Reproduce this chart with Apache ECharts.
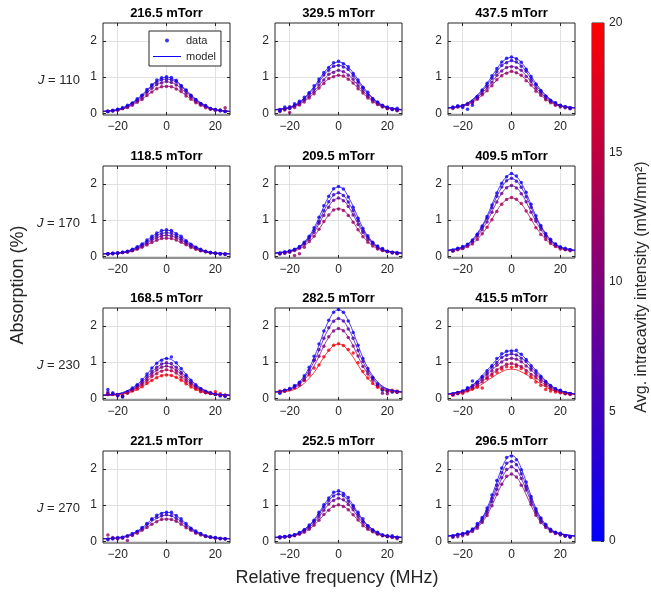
<!DOCTYPE html>
<html><head><meta charset="utf-8">
<script src="https://cdn.jsdelivr.net/npm/echarts@6/dist/echarts.min.js"></script>
<style>html,body{margin:0;padding:0;background:#fff}#c{width:651px;height:597px}</style>
</head><body><div id="c"></div>
<script>
// ---------------- data ----------------
const xModel = [-26,-20,-16,-12,-9,-6,-4,-2,0,2,4,6,9,12,16,20,26];
const xData = [-24,-22,-20,-18,-16,-14,-12,-10,-8,-6,-4,-2,0,2,4,6,8,10,12,14,16,18,20,22,24];
const xTicks = [-20,0,20];
const yTicks = [0,1,2];
const cbTicks = [0,5,10,15,20];
const titles = ['216.5 mTorr','329.5 mTorr','437.5 mTorr','118.5 mTorr','209.5 mTorr','409.5 mTorr',
                '168.5 mTorr','282.5 mTorr','415.5 mTorr','221.5 mTorr','252.5 mTorr','296.5 mTorr'];
const jValues = ['110','170','230','270'];

// Panel A 216.5
const A_int = [1,4,8,12];
const A_m1 = [0.05,0.10,0.21,0.39,0.58,0.78,0.90,0.97,1.00,0.97,0.90,0.78,0.58,0.39,0.21,0.10,0.05];
const A_m2 = [0.05,0.10,0.20,0.37,0.55,0.75,0.86,0.92,0.95,0.92,0.86,0.75,0.55,0.37,0.20,0.10,0.05];
const A_m3 = [0.05,0.09,0.18,0.34,0.51,0.68,0.79,0.85,0.87,0.85,0.79,0.68,0.51,0.34,0.18,0.09,0.05];
const A_m4 = [0.05,0.08,0.16,0.30,0.44,0.59,0.68,0.73,0.75,0.73,0.68,0.59,0.44,0.30,0.16,0.08,0.05];
const A_d1 = [0.05,0.07,0.11,0.14,0.22,0.27,0.40,0.50,0.66,0.79,0.92,0.98,1.01,0.99,0.91,0.77,0.64,0.50,0.37,0.27,0.20,0.13,0.09,0.07,0.05];
const A_d2 = [0.06,0.08,0.10,0.15,0.19,0.28,0.36,0.49,0.61,0.76,0.85,0.93,0.94,0.93,0.87,0.74,0.63,0.48,0.38,0.26,0.21,0.13,0.10,0.08,0.05];
const A_d3 = [0.05,0.06,0.09,0.14,0.17,0.26,0.35,0.43,0.57,0.69,0.79,0.84,0.88,0.85,0.78,0.68,0.55,0.45,0.33,0.25,0.19,0.12,0.10,0.07,0.06];
const A_d4 = [0.05,0.07,0.08,0.12,0.16,0.22,0.30,0.38,0.49,0.59,0.68,0.73,0.74,0.73,0.67,0.60,0.48,0.39,0.29,0.22,0.15,0.11,0.08,0.09,0.15];

// Panel B 329.5
const B_int = [1,4,8,12];
const B_m1 = [0.10,0.17,0.31,0.57,0.83,1.12,1.28,1.38,1.42,1.38,1.28,1.12,0.83,0.57,0.31,0.17,0.10];
const B_m2 = [0.10,0.16,0.29,0.54,0.78,1.05,1.20,1.29,1.33,1.29,1.20,1.05,0.78,0.54,0.29,0.16,0.10];
const B_m3 = [0.09,0.15,0.27,0.48,0.69,0.93,1.07,1.15,1.18,1.15,1.07,0.93,0.69,0.48,0.27,0.15,0.09];
const B_m4 = [0.09,0.14,0.24,0.43,0.62,0.83,0.95,1.02,1.05,1.02,0.95,0.83,0.62,0.43,0.24,0.14,0.09];
const B_d1 = [0.06,0.17,0.14,0.26,0.33,0.44,0.57,0.76,0.95,1.13,1.27,1.40,1.44,1.37,1.29,1.10,0.92,0.72,0.58,0.41,0.30,0.22,0.17,0.10,0.14];
const B_d2 = [0.08,0.11,0.18,0.20,0.30,0.38,0.55,0.68,0.88,1.06,1.19,1.30,1.32,1.28,1.21,1.04,0.86,0.70,0.52,0.39,0.30,0.20,0.15,0.12,0.09];
const B_d3 = [0.10,0.12,0.13,0.22,0.25,0.37,0.47,0.60,0.78,0.92,1.08,1.13,1.19,1.15,1.05,0.94,0.76,0.62,0.47,0.36,0.26,0.19,0.14,0.12,0.08];
const B_d4 = [0.05,0.09,0.02,0.16,0.23,0.31,0.42,0.54,0.70,0.82,0.96,1.01,1.05,1.03,0.94,0.84,0.68,0.56,0.42,0.31,0.24,0.17,0.12,0.10,0.07];

// Panel C 437.5
const C_int = [1,4,8,12];
const C_m1 = [0.15,0.22,0.38,0.65,0.93,1.23,1.41,1.51,1.55,1.51,1.41,1.23,0.93,0.65,0.38,0.22,0.15];
const C_m2 = [0.15,0.21,0.36,0.61,0.87,1.15,1.32,1.41,1.45,1.41,1.32,1.15,0.87,0.61,0.36,0.21,0.15];
const C_m3 = [0.14,0.20,0.33,0.56,0.78,1.04,1.18,1.26,1.30,1.26,1.18,1.04,0.78,0.56,0.33,0.20,0.14];
const C_m4 = [0.14,0.19,0.30,0.50,0.70,0.92,1.05,1.12,1.15,1.12,1.05,0.92,0.70,0.50,0.30,0.19,0.14];
const C_d1 = [0.17,0.20,0.16,0.11,0.22,0.46,0.64,0.83,1.04,1.24,1.42,1.52,1.56,1.51,1.41,1.22,1.02,0.81,0.63,0.47,0.36,0.29,0.22,0.17,0.14];
const C_d2 = [0.16,0.20,0.21,0.24,0.31,0.45,0.62,0.77,0.97,1.15,1.32,1.40,1.46,1.42,1.30,1.16,0.95,0.78,0.60,0.47,0.34,0.28,0.21,0.17,0.16];
const C_d3 = [0.15,0.18,0.19,0.27,0.33,0.41,0.55,0.71,0.86,1.05,1.17,1.27,1.29,1.26,1.19,1.02,0.88,0.69,0.56,0.41,0.33,0.24,0.20,0.18,0.13];
const C_d4 = [0.13,0.17,0.20,0.25,0.28,0.39,0.51,0.62,0.76,0.93,1.04,1.11,1.16,1.12,1.05,0.90,0.78,0.61,0.50,0.37,0.29,0.22,0.17,0.15,0.12];

// Panel D 118.5
const D_int = [1,4,8,12];
const D_m1 = [0.07,0.09,0.14,0.26,0.39,0.55,0.63,0.70,0.72,0.70,0.63,0.55,0.39,0.26,0.14,0.09,0.07];
const D_m2 = [0.07,0.09,0.13,0.24,0.35,0.49,0.57,0.63,0.65,0.63,0.57,0.49,0.35,0.24,0.13,0.09,0.07];
const D_m3 = [0.06,0.08,0.12,0.21,0.32,0.44,0.51,0.56,0.58,0.56,0.51,0.44,0.32,0.21,0.12,0.08,0.06];
const D_m4 = [0.06,0.08,0.11,0.19,0.28,0.38,0.44,0.49,0.50,0.49,0.44,0.38,0.28,0.19,0.11,0.08,0.06];
const D_d1 = [0.06,0.08,0.09,0.10,0.13,0.19,0.26,0.34,0.45,0.55,0.64,0.71,0.73,0.71,0.62,0.55,0.43,0.33,0.25,0.19,0.14,0.10,0.08,0.06,0.05];
const D_d2 = [0.07,0.07,0.09,0.11,0.14,0.17,0.23,0.31,0.40,0.50,0.58,0.63,0.66,0.64,0.57,0.49,0.40,0.30,0.24,0.18,0.13,0.10,0.08,0.07,0.06];
const D_d3 = [0.06,0.07,0.08,0.10,0.12,0.16,0.21,0.28,0.35,0.45,0.51,0.56,0.58,0.57,0.52,0.44,0.36,0.28,0.22,0.16,0.12,0.09,0.08,0.07,0.06];
const D_d4 = [0.07,0.08,0.09,0.10,0.11,0.15,0.19,0.25,0.31,0.38,0.44,0.49,0.50,0.49,0.45,0.39,0.32,0.24,0.19,0.15,0.12,0.10,0.08,0.07,0.07];

// Panel E 209.5
const E_int = [1,4,8,12];
const E_m1 = [0.09,0.15,0.27,0.56,0.92,1.38,1.65,1.86,1.92,1.86,1.65,1.38,0.92,0.56,0.27,0.15,0.09];
const E_m2 = [0.09,0.14,0.25,0.52,0.84,1.26,1.50,1.69,1.75,1.69,1.50,1.26,0.84,0.52,0.25,0.14,0.09];
const E_m3 = [0.08,0.14,0.24,0.48,0.77,1.15,1.38,1.55,1.60,1.55,1.38,1.15,0.77,0.48,0.24,0.14,0.08];
const E_m4 = [0.08,0.12,0.20,0.40,0.64,0.95,1.14,1.28,1.32,1.28,1.14,0.95,0.64,0.40,0.20,0.12,0.08];
const E_d1 = [0.08,0.10,0.13,0.19,0.27,0.39,0.55,0.79,1.08,1.40,1.66,1.87,1.93,1.86,1.64,1.36,1.05,0.77,0.57,0.39,0.28,0.21,0.14,0.11,0.08];
const E_d2 = [0.09,0.12,0.15,0.18,0.25,0.36,0.52,0.72,0.96,1.26,1.51,1.70,1.76,1.68,1.50,1.27,0.98,0.70,0.52,0.36,0.26,0.20,0.13,0.10,0.10];
const E_d3 = [0.07,0.09,0.11,0.16,0.22,0.33,0.48,0.66,0.91,1.13,1.36,1.55,1.61,1.54,1.38,1.14,0.88,0.66,0.46,0.35,0.23,0.17,0.12,0.10,0.08];
const E_d4 = [0.06,0.08,0.12,0.02,0.07,0.25,0.41,0.55,0.75,0.96,1.14,1.28,1.31,1.27,1.13,0.94,0.73,0.54,0.39,0.28,0.20,0.16,0.13,0.09,0.07];

// Panel F 409.5
const F_int = [1,4,8,13];
const F_m1 = [0.17,0.26,0.46,0.85,1.27,1.76,2.03,2.21,2.28,2.21,2.03,1.76,1.27,0.85,0.46,0.26,0.17];
const F_m2 = [0.16,0.25,0.44,0.81,1.20,1.66,1.91,2.09,2.15,2.09,1.91,1.66,1.20,0.81,0.44,0.25,0.16];
const F_m3 = [0.16,0.23,0.41,0.74,1.09,1.51,1.74,1.90,1.95,1.90,1.74,1.51,1.09,0.74,0.41,0.23,0.16];
const F_m4 = [0.15,0.21,0.35,0.62,0.91,1.26,1.45,1.57,1.62,1.57,1.45,1.26,0.91,0.62,0.35,0.21,0.15];
const F_d1 = [0.17,0.22,0.27,0.33,0.45,0.61,0.84,1.10,1.42,1.75,2.02,2.20,2.29,2.22,2.04,1.77,1.44,1.12,0.85,0.63,0.47,0.34,0.26,0.22,0.18];
const F_d2 = [0.16,0.20,0.25,0.32,0.43,0.60,0.80,1.05,1.34,1.66,1.92,2.09,2.16,2.08,1.91,1.65,1.36,1.04,0.81,0.58,0.44,0.33,0.24,0.19,0.18];
const F_d3 = [0.15,0.20,0.22,0.30,0.40,0.55,0.73,0.95,1.22,1.50,1.74,1.90,1.96,1.89,1.73,1.51,1.22,0.97,0.74,0.54,0.40,0.30,0.24,0.19,0.17];
const F_d4 = [0.14,0.18,0.21,0.27,0.34,0.46,0.62,0.80,1.01,1.24,1.44,1.57,1.63,1.58,1.46,1.25,1.02,0.79,0.60,0.46,0.35,0.27,0.20,0.18,0.15];

// Panel G 168.5
const G_int = [1,6,10,14,19];
const G_m1 = [0.09,0.12,0.21,0.38,0.58,0.83,0.97,1.07,1.10,1.07,0.97,0.83,0.58,0.38,0.21,0.12,0.09];
const G_m2 = [0.08,0.12,0.19,0.34,0.52,0.73,0.85,0.94,0.97,0.94,0.85,0.73,0.52,0.34,0.19,0.12,0.08];
const G_m3 = [0.08,0.11,0.18,0.31,0.47,0.67,0.77,0.86,0.88,0.86,0.77,0.67,0.47,0.31,0.18,0.11,0.08];
const G_m4 = [0.08,0.10,0.16,0.28,0.42,0.59,0.69,0.76,0.78,0.76,0.69,0.59,0.42,0.28,0.16,0.10,0.08];
const G_m5 = [0.08,0.10,0.14,0.24,0.36,0.50,0.57,0.63,0.65,0.63,0.57,0.50,0.36,0.24,0.14,0.10,0.08];
const G_d1 = [0.24,0.15,0.08,0.03,0.18,0.28,0.37,0.52,0.67,0.84,0.97,1.05,1.10,1.14,0.98,0.82,0.64,0.50,0.37,0.26,0.19,0.14,0.10,0.06,0.05];
const G_d2 = [0.17,0.12,0.09,0.06,0.16,0.25,0.35,0.46,0.60,0.74,0.86,0.95,0.98,0.96,0.86,0.72,0.60,0.44,0.33,0.26,0.18,0.13,0.11,0.08,0.07];
const G_d3 = [0.12,0.10,0.06,0.05,0.17,0.23,0.32,0.42,0.53,0.67,0.78,0.86,0.89,0.86,0.77,0.68,0.53,0.42,0.30,0.24,0.16,0.14,0.10,0.09,0.07];
const G_d4 = [0.10,0.11,0.08,0.07,0.15,0.22,0.29,0.37,0.48,0.60,0.68,0.75,0.79,0.76,0.70,0.58,0.47,0.38,0.28,0.20,0.16,0.14,0.11,0.08,0.08];
const G_d5 = [0.13,0.11,0.10,0.06,0.14,0.20,0.25,0.32,0.41,0.49,0.57,0.62,0.64,0.63,0.58,0.50,0.40,0.31,0.25,0.18,0.15,0.16,0.18,0.12,0.09];

// Panel H 282.5
const H_int = [1,6,10,19];
const H_m1 = [0.18,0.26,0.45,0.84,1.29,1.84,2.15,2.38,2.45,2.38,2.15,1.84,1.29,0.84,0.45,0.26,0.18];
const H_m2 = [0.17,0.25,0.41,0.77,1.16,1.66,1.93,2.14,2.20,2.14,1.93,1.66,1.16,0.77,0.41,0.25,0.17];
const H_m3 = [0.17,0.23,0.37,0.68,1.02,1.45,1.69,1.87,1.92,1.87,1.69,1.45,1.02,0.68,0.37,0.23,0.17];
const H_m4 = [0.16,0.20,0.31,0.55,0.81,1.14,1.32,1.46,1.50,1.46,1.32,1.14,0.81,0.55,0.31,0.20,0.16];
const H_d1 = [0.14,0.20,0.27,0.35,0.44,0.62,0.86,1.16,1.50,1.86,2.16,2.38,2.46,2.38,2.14,1.82,1.47,1.10,0.82,0.58,0.40,0.25,0.20,0.19,0.17];
const H_d2 = [0.17,0.22,0.25,0.33,0.42,0.56,0.78,1.05,1.34,1.66,1.95,2.13,2.21,2.14,1.92,1.66,1.32,1.02,0.75,0.55,0.37,0.22,0.21,0.18,0.18];
const H_d3 = [0.15,0.19,0.24,0.28,0.36,0.50,0.70,1.06,1.16,1.44,1.70,1.86,1.93,1.87,1.68,1.45,1.17,0.88,0.67,0.50,0.34,0.14,0.12,0.17,0.16];
const H_d4 = [0.20,0.22,0.25,0.31,0.39,0.50,0.64,0.84,0.92,1.15,1.33,1.47,1.51,1.46,1.35,1.25,0.98,0.74,0.56,0.41,0.30,0.25,0.19,0.22,0.20];

// Panel I 415.5
const I_int = [1,5,9,13,19];
const I_m1 = [0.12,0.21,0.36,0.63,0.85,1.08,1.21,1.29,1.32,1.29,1.21,1.08,0.85,0.63,0.36,0.21,0.12];
const I_m2 = [0.12,0.20,0.34,0.58,0.79,1.00,1.12,1.20,1.22,1.20,1.12,1.00,0.79,0.58,0.34,0.20,0.12];
const I_m3 = [0.11,0.19,0.31,0.53,0.72,0.90,1.01,1.08,1.10,1.08,1.01,0.90,0.72,0.53,0.31,0.19,0.11];
const I_m4 = [0.11,0.17,0.27,0.46,0.62,0.78,0.87,0.93,0.95,0.93,0.87,0.78,0.62,0.46,0.27,0.17,0.11];
const I_m5 = [0.10,0.15,0.24,0.39,0.53,0.66,0.73,0.79,0.80,0.79,0.73,0.66,0.53,0.39,0.24,0.15,0.10];
const I_d1 = [0.10,0.14,0.19,0.29,0.48,0.44,0.60,0.76,0.90,1.10,1.23,1.30,1.31,1.33,1.22,1.07,0.90,0.76,0.61,0.46,0.35,0.27,0.22,0.16,0.12];
const I_d2 = [0.12,0.16,0.20,0.27,0.35,0.45,0.57,0.70,0.86,0.99,1.13,1.19,1.23,1.20,1.11,1.02,0.84,0.70,0.57,0.45,0.33,0.25,0.21,0.15,0.13];
const I_d3 = [0.11,0.15,0.18,0.25,0.31,0.41,0.52,0.64,0.76,0.91,1.00,1.07,1.11,1.08,1.01,0.89,0.78,0.63,0.53,0.40,0.32,0.23,0.19,0.14,0.12];
const I_d4 = [0.10,0.14,0.16,0.22,0.28,0.36,0.45,0.56,0.67,0.79,0.86,0.94,0.96,0.93,0.88,0.77,0.66,0.56,0.46,0.35,0.27,0.22,0.16,0.13,0.11];
const I_d5 = [0.08,0.12,0.14,0.20,0.25,0.30,0.28,0.55,0.62,0.72,0.80,0.87,0.86,0.88,0.82,0.70,0.58,0.45,0.36,0.24,0.20,0.17,0.15,0.12,0.10];

// Panel J 221.5
const J_int = [1,5,11];
const J_m1 = [0.07,0.10,0.16,0.28,0.43,0.61,0.70,0.78,0.80,0.78,0.70,0.61,0.43,0.28,0.16,0.10,0.07];
const J_m2 = [0.07,0.09,0.14,0.26,0.39,0.55,0.63,0.70,0.72,0.70,0.63,0.55,0.39,0.26,0.14,0.09,0.07];
const J_m3 = [0.06,0.08,0.13,0.23,0.34,0.47,0.55,0.60,0.62,0.60,0.55,0.47,0.34,0.23,0.13,0.08,0.06];
const J_d1 = [0.04,0.06,0.08,0.10,0.15,0.21,0.27,0.38,0.49,0.60,0.72,0.77,0.80,0.80,0.71,0.62,0.49,0.36,0.28,0.21,0.15,0.11,0.10,0.07,0.06];
const J_d2 = [0.06,0.08,0.10,0.11,0.13,0.18,0.27,0.35,0.46,0.62,0.66,0.70,0.73,0.71,0.63,0.55,0.43,0.34,0.25,0.20,0.14,0.12,0.09,0.08,0.07];
const J_d3 = [0.17,0.10,0.06,0.08,0.02,0.16,0.22,0.30,0.38,0.47,0.54,0.60,0.61,0.60,0.55,0.47,0.37,0.30,0.22,0.17,0.13,0.11,0.09,0.07,0.07];

// Panel K 252.5
const K_int = [1,4,8,11];
const K_m1 = [0.11,0.15,0.24,0.44,0.69,1.00,1.19,1.34,1.38,1.34,1.19,1.00,0.69,0.44,0.24,0.15,0.11];
const K_m2 = [0.11,0.15,0.23,0.42,0.65,0.95,1.12,1.26,1.30,1.26,1.12,0.95,0.65,0.42,0.23,0.15,0.11];
const K_m3 = [0.10,0.14,0.21,0.38,0.59,0.86,1.02,1.14,1.18,1.14,1.02,0.86,0.59,0.38,0.21,0.14,0.10];
const K_m4 = [0.10,0.13,0.19,0.33,0.51,0.73,0.87,0.97,1.00,0.97,0.87,0.73,0.51,0.33,0.19,0.13,0.10];
const K_d1 = [0.12,0.13,0.16,0.17,0.24,0.32,0.45,0.58,0.80,1.01,1.20,1.36,1.40,1.32,1.21,0.99,0.80,0.62,0.43,0.32,0.25,0.17,0.14,0.15,0.10];
const K_d2 = [0.11,0.12,0.14,0.18,0.22,0.31,0.41,0.56,0.74,0.95,1.13,1.25,1.31,1.26,1.11,0.94,0.75,0.55,0.42,0.30,0.23,0.17,0.15,0.12,0.11];
const K_d3 = [0.10,0.12,0.13,0.17,0.21,0.28,0.38,0.51,0.67,0.86,1.03,1.13,1.19,1.15,1.02,0.87,0.68,0.51,0.38,0.29,0.21,0.16,0.14,0.11,0.10];
const K_d4 = [0.09,0.11,0.12,0.15,0.19,0.25,0.33,0.44,0.58,0.74,0.86,0.97,1.01,0.96,0.87,0.73,0.59,0.43,0.33,0.26,0.19,0.15,0.12,0.10,0.07];

// Panel L 296.5
const L_int = [1,4,7,10];
const L_m1 = [0.15,0.21,0.33,0.65,1.08,1.65,2.02,2.29,2.38,2.29,2.02,1.65,1.08,0.65,0.33,0.21,0.15];
const L_m2 = [0.14,0.21,0.31,0.61,1.01,1.54,1.88,2.14,2.22,2.14,1.88,1.54,1.01,0.61,0.31,0.21,0.14];
const L_m3 = [0.14,0.20,0.30,0.57,0.94,1.43,1.74,1.97,2.05,1.97,1.74,1.43,0.94,0.57,0.30,0.20,0.14];
const L_m4 = [0.14,0.19,0.28,0.52,0.85,1.29,1.57,1.78,1.85,1.78,1.57,1.29,0.85,0.52,0.28,0.19,0.14];
const L_d1 = [0.15,0.18,0.21,0.26,0.34,0.49,0.66,0.92,1.28,1.68,2.03,2.32,2.36,2.26,1.98,1.64,1.24,0.90,0.64,0.47,0.33,0.25,0.22,0.16,0.13];
const L_d2 = [0.14,0.19,0.20,0.24,0.32,0.45,0.62,0.85,1.19,1.55,1.90,2.16,2.21,2.12,1.87,1.53,1.17,0.84,0.62,0.44,0.31,0.24,0.20,0.15,0.12];
const L_d3 = [0.13,0.17,0.19,0.22,0.30,0.41,0.57,0.78,1.10,1.44,1.76,1.99,2.06,1.96,1.74,1.42,1.09,0.79,0.56,0.42,0.29,0.23,0.19,0.15,0.13];
const L_d4 = [0.10,0.12,0.15,0.19,0.27,0.36,0.52,0.71,0.98,1.30,1.58,1.80,1.86,1.78,1.55,1.48,1.02,0.72,0.52,0.38,0.27,0.21,0.17,0.14,0.10];

const panels = [
  {I:A_int, d:[A_d1,A_d2,A_d3,A_d4], m:[A_m1,A_m2,A_m3,A_m4]},
  {I:B_int, d:[B_d1,B_d2,B_d3,B_d4], m:[B_m1,B_m2,B_m3,B_m4]},
  {I:C_int, d:[C_d1,C_d2,C_d3,C_d4], m:[C_m1,C_m2,C_m3,C_m4]},
  {I:D_int, d:[D_d1,D_d2,D_d3,D_d4], m:[D_m1,D_m2,D_m3,D_m4]},
  {I:E_int, d:[E_d1,E_d2,E_d3,E_d4], m:[E_m1,E_m2,E_m3,E_m4]},
  {I:F_int, d:[F_d1,F_d2,F_d3,F_d4], m:[F_m1,F_m2,F_m3,F_m4]},
  {I:G_int, d:[G_d1,G_d2,G_d3,G_d4,G_d5], m:[G_m1,G_m2,G_m3,G_m4,G_m5]},
  {I:H_int, d:[H_d1,H_d2,H_d3,H_d4], m:[H_m1,H_m2,H_m3,H_m4]},
  {I:I_int, d:[I_d1,I_d2,I_d3,I_d4,I_d5], m:[I_m1,I_m2,I_m3,I_m4,I_m5]},
  {I:J_int, d:[J_d1,J_d2,J_d3], m:[J_m1,J_m2,J_m3]},
  {I:K_int, d:[K_d1,K_d2,K_d3,K_d4], m:[K_m1,K_m2,K_m3,K_m4]},
  {I:L_int, d:[L_d1,L_d2,L_d3,L_d4], m:[L_m1,L_m2,L_m3,L_m4]}
];

// ---------------- layout / style ----------------
const FONT = '"Liberation Sans", Arial, Helvetica, sans-serif';
const TXT = '#262626';
const GRIDC = '#e2e2e2';
const colLeft = [103, 275, 448];
const rowTop = [23, 166, 308, 451];
const W = 127, H = 92;
const XMIN = -26, XMAX = 26, YMIN = -0.05, YMAX = 2.5;
function col(i) { const t = i / 20; return 'rgb(' + Math.round(255 * t) + ',0,' + Math.round(255 * (1 - t)) + ')'; }
const fmtX = v => v < 0 ? '\u2212' + (-v) : String(v);

const grids = [], xAxes = [], yAxes = [], series = [], graphics = [];
const tickStyle = {color: TXT, width: 1};

panels.forEach((p, i) => {
  const r = Math.floor(i / 3), c = i % 3;
  const left = colLeft[c], top = rowTop[r];
  grids.push({left, top, width: W, height: H, show: true, borderColor: TXT, borderWidth: 1, backgroundColor: '#fff'});
  xAxes.push({type: 'value', gridIndex: i, min: XMIN, max: XMAX, position: 'bottom',
    axisLine: {show: false, onZero: false},
    axisTick: {show: true, inside: true, length: 3, customValues: xTicks, lineStyle: tickStyle},
    axisLabel: {customValues: xTicks, formatter: fmtX, color: TXT, fontSize: 12, fontFamily: FONT, margin: 6},
    splitLine: {show: true, lineStyle: {color: GRIDC, width: 1}}});
  xAxes.push({type: 'value', gridIndex: i, min: XMIN, max: XMAX, position: 'top',
    axisLine: {show: false, onZero: false},
    axisTick: {show: true, inside: true, length: 3, customValues: xTicks, lineStyle: tickStyle},
    axisLabel: {show: false}, splitLine: {show: false}});
  yAxes.push({type: 'value', gridIndex: i, min: YMIN, max: YMAX, position: 'left',
    axisLine: {show: false, onZero: false},
    axisTick: {show: true, inside: true, length: 3, customValues: yTicks, lineStyle: tickStyle},
    axisLabel: {customValues: yTicks, color: TXT, fontSize: 12, fontFamily: FONT, margin: 6},
    splitLine: {show: true, lineStyle: {color: GRIDC, width: 1}}});
  yAxes.push({type: 'value', gridIndex: i, min: YMIN, max: YMAX, position: 'right',
    axisLine: {show: false, onZero: false},
    axisTick: {show: true, inside: true, length: 3, customValues: yTicks, lineStyle: tickStyle},
    axisLabel: {show: false}, splitLine: {show: false}});

  const n = p.I.length;
  for (let k = n - 1; k >= 0; k--) {
    const color = col(p.I[k]);
    const first = (i === 0 && k === 0);
    series.push({type: 'scatter', name: first ? 'data' : ('d' + i + '_' + k),
      xAxisIndex: 2 * i, yAxisIndex: 2 * i, symbol: 'circle', symbolSize: 3.5,
      itemStyle: {color: color}, silent: true, z: 3,
      data: xData.map((x, j) => [x, p.d[k][j]])});
  }
  for (let k = n - 1; k >= 0; k--) {
    const color = col(p.I[k]);
    const first = (i === 0 && k === 0);
    series.push({type: 'line', name: first ? 'model' : ('m' + i + '_' + k),
      xAxisIndex: 2 * i, yAxisIndex: 2 * i, smooth: 0.35, showSymbol: false, symbol: 'none',
      itemStyle: {color: color}, lineStyle: {color: color, width: 1, opacity: 0.75}, silent: true, z: 4,
      data: xModel.map((x, j) => [x, p.m[k][j]])});
  }
  graphics.push({type: 'text', x: left + W / 2, y: top - 10,
    style: {text: titles[i], fontSize: 13, fontWeight: 'bold', fontFamily: FONT, fill: '#000', textAlign: 'center', textVerticalAlign: 'middle'}});
});

// J labels
rowTop.forEach((top, r) => {
  const y1 = top + H * (YMAX - 1) / (YMAX - YMIN) + 3;
  graphics.push({type: 'text', x: 80, y: y1,
    style: {text: '{i|J} = ' + jValues[r], fontSize: 13, fontFamily: FONT, fill: TXT, textAlign: 'right', textVerticalAlign: 'middle',
      rich: {i: {fontStyle: 'italic', fontSize: 13, fontFamily: FONT, fill: TXT}}}});
});

// colorbar
const cbi = panels.length;
grids.push({left: 592, top: 23, width: 12, height: 518, show: true, borderColor: TXT, borderWidth: 1});
xAxes.push({type: 'category', gridIndex: cbi, data: ['c'], show: false});
yAxes.push({type: 'value', gridIndex: cbi, min: 0, max: 20, position: 'right',
  axisLine: {show: false, onZero: false},
  axisTick: {show: true, inside: true, length: 3, customValues: cbTicks, lineStyle: tickStyle},
  axisLabel: {customValues: cbTicks, color: TXT, fontSize: 12, fontFamily: FONT, margin: 5},
  splitLine: {show: false}});
series.push({type: 'bar', xAxisIndex: 2 * cbi, yAxisIndex: 2 * cbi, data: [20], barWidth: '100%', silent: true,
  itemStyle: {color: {type: 'linear', x: 0, y: 1, x2: 0, y2: 0,
    colorStops: [{offset: 0, color: col(0)}, {offset: 1, color: col(20)}]}}});

// axis titles
graphics.push({type: 'text', x: 18, y: 285, rotation: Math.PI / 2,
  style: {text: 'Absorption (%)', fontSize: 18, fontFamily: FONT, fill: TXT, textAlign: 'center', textVerticalAlign: 'middle'}});
graphics.push({type: 'text', x: 337, y: 578,
  style: {text: 'Relative frequency (MHz)', fontSize: 18, fontFamily: FONT, fill: TXT, textAlign: 'center', textVerticalAlign: 'middle'}});
graphics.push({type: 'text', x: 642, y: 287, rotation: Math.PI / 2,
  style: {text: 'Avg. intracavity intensity (mW/mm\u00B2)', fontSize: 16, fontFamily: FONT, fill: TXT, textAlign: 'center', textVerticalAlign: 'middle'}});

const chart = echarts.init(document.getElementById('c'), null, {renderer: 'canvas'});
chart.setOption({
  animation: false,
  backgroundColor: '#fff',
  grid: grids, xAxis: xAxes, yAxis: yAxes, series: series,
  legend: {
    data: [{name: 'data', icon: 'circle'}, {name: 'model', icon: 'path://M0,0H28V1H0Z'}],
    left: 149, top: 31, orient: 'vertical', itemWidth: 28, itemHeight: 4, itemGap: 5,
    padding: [4, 5, 4, 4], borderColor: TXT, borderWidth: 1, backgroundColor: '#fff',
    textStyle: {fontSize: 11, color: TXT, fontFamily: FONT}, selectedMode: false, z: 10
  },
  graphic: graphics
});
</script></body></html>
